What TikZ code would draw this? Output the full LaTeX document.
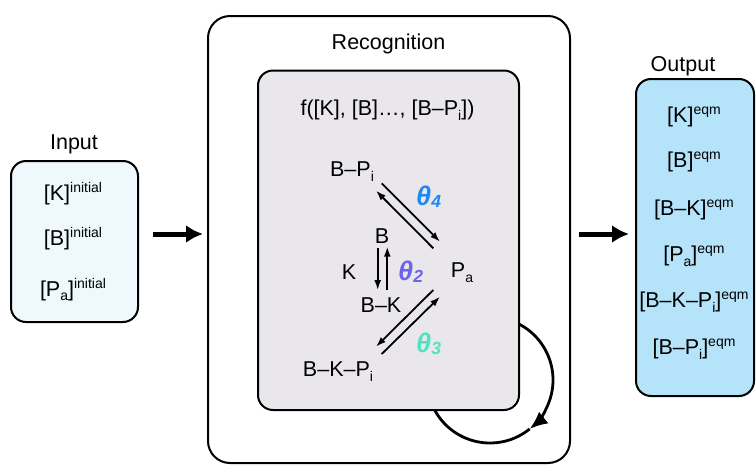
\documentclass[tikz,border=0pt]{standalone}
\usepackage{fontspec}
\setmainfont{Liberation Sans}
\usetikzlibrary{arrows.meta,calc}
\definecolor{innergray}{RGB}{233,231,235}
\definecolor{inputfill}{RGB}{238,248,253}
\definecolor{outputfill}{RGB}{180,227,250}
\definecolor{thfour}{RGB}{30,136,245}
\definecolor{thtwo}{RGB}{110,99,240}
\definecolor{ththree}{RGB}{80,227,194}
\newcommand\hsup[1]{\raisebox{0.36em}{\fontsize{14}{14}\selectfont #1}}
\newcommand\hsub[1]{\raisebox{-0.22em}{\fontsize{14}{14}\selectfont #1}}
\newcommand\thlab[1]{{\fontsize{27}{30}\selectfont\textbf{\textit{θ}}}\raisebox{-0.1em}{\fontsize{17.5}{19}\selectfont\textbf{\textit{#1}}}}
\begin{document}
\begin{tikzpicture}[x=1pt,y=-1pt,
  lbl/.style={font=\fontsize{21.5}{24}\selectfont, inner sep=0pt, anchor=base},
  thl/.style={font=\fontsize{21.5}{24}\selectfont, inner sep=0pt, anchor=base west},
  frame/.style={draw=black, line width=2pt, inner sep=0pt, anchor=north west},
  rx/.style={-{Latex[length=10pt,width=7pt]}, line width=1.8pt},
  big/.style={-{Latex[length=17pt,width=18pt]}, line width=5pt}]
\useasboundingbox (0,0) rectangle (756,464);

% Input
\node[frame, fill=inputfill, rounded corners=15pt, minimum width=127pt, minimum height=161pt] (inbox) at (10,160) {};
\node[lbl] (inlab) at (74,149.5) {Input};
\node[lbl] (k0) at (73,200) {[K]\hsup{initial}};
\node[lbl] (b0) at (73,245) {[B]\hsup{initial}};
\node[lbl] (p0) at (73,296) {[P\hsub{a}]\hsup{initial}};

% Recognition outer
\node[frame, rounded corners=22pt, minimum width=362pt, minimum height=447pt] (recog) at (207,15) {};
\node[lbl] (reclab) at (388.5,49.5) {Recognition};

% loop (drawn behind inner box)
\coordinate (loopc) at (490,380);
\draw[line width=2.8pt, -{Latex[length=18pt,width=15pt]}] ($(loopc)+(-70:63)$) arc[start angle=-70, end angle=51, radius=63];
\draw[line width=2.8pt] ($(loopc)+(51:63)$) arc[start angle=51, end angle=180, radius=63];

% inner box
\node[frame, fill=innergray, rounded corners=15pt, minimum width=261pt, minimum height=339.5pt] (inner) at (257,69.5) {};
\node[lbl] (flab) at (387.5,115.5) {f([K], [B]…, [B–P\hsub{i}])};

\node[lbl] (bp) at (352,176.5) {B–P\hsub{i}};
\node[lbl] (bb) at (382,243.5) {B};
\node[lbl] (kk) at (349,279.5) {K};
\node[lbl] (bk) at (381,312.5) {B–K};
\node[lbl] (pa) at (462,277.5) {P\hsub{a}};
\node[lbl] (bkp) at (338,376.5) {B–K–P\hsub{i}};

\node[thl, text=thfour] (t4) at (416,205) {\thlab{4}};
\node[thl, text=thtwo] (t2) at (398,280) {\thlab{2}};
\node[thl, text=ththree] (t3) at (416,352.5) {\thlab{3}};

% reaction arrows
\coordinate (u1a) at (381.7,183.3); \coordinate (u1b) at (440,241.7);
\coordinate (u2a) at (433.3,248.3); \coordinate (u2b) at (376,190.7);
\draw[rx] (u1a) -- (u1b);
\draw[rx] (u2a) -- (u2b);
\coordinate (m1a) at (377.7,248.3); \coordinate (m1b) at (377.7,290);
\coordinate (m2a) at (387.3,290); \coordinate (m2b) at (387.3,246.7);
\draw[rx] (m1a) -- (m1b);
\draw[rx] (m2a) -- (m2b);
\coordinate (l1a) at (433.3,290); \coordinate (l1b) at (376,346.7);
\coordinate (l2a) at (381.7,354); \coordinate (l2b) at (440,296.7);
\draw[rx] (l1a) -- (l1b);
\draw[rx] (l2a) -- (l2b);

% Output
\node[frame, fill=outputfill, rounded corners=15pt, minimum width=118pt, minimum height=317pt] (outbox) at (635,78) {};
\node[lbl] (outlab) at (683,71.5) {Output};
\node[lbl] (k1) at (694,122.5) {[K]\hsup{eqm}};
\node[lbl] (b1) at (694,167.5) {[B]\hsup{eqm}};
\node[lbl] (bk1) at (694,215.5) {[B–K]\hsup{eqm}};
\node[lbl] (pa1) at (694,261.5) {[P\hsub{a}]\hsup{eqm}};
\node[lbl] (bkp1) at (694,307.5) {[B–K–P\hsub{i}]\hsup{eqm}};
\node[lbl] (bp1) at (694,354.5) {[B–P\hsub{i}]\hsup{eqm}};

% big arrows
\coordinate (arrowy) at (0,234);
\draw[big, shorten <=14pt, shorten >=4pt] (inbox.east |- arrowy) -- (recog.west |- arrowy);
\draw[big, shorten <=8pt, shorten >=6pt] (recog.east |- arrowy) -- (outbox.west |- arrowy);
\end{tikzpicture}
\end{document}
